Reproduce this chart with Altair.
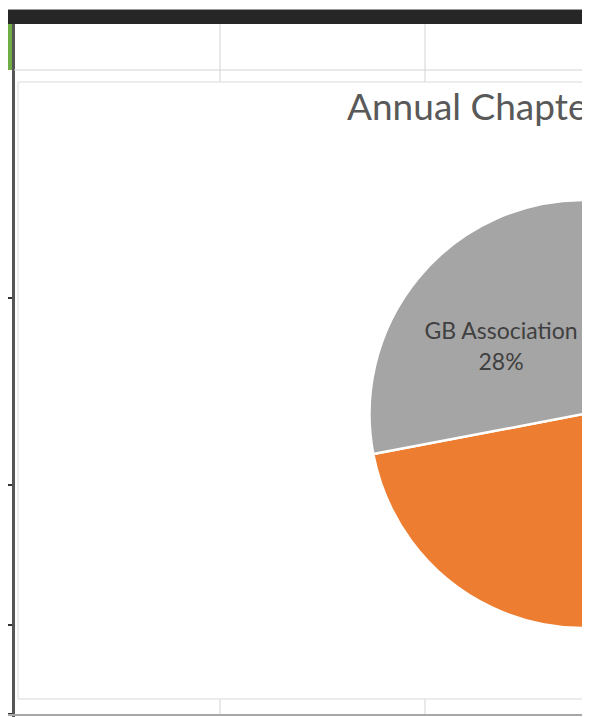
import altair as alt
import pandas as pd

# ---- chart data ----
categories = ["District", "Chapter", "GB Association"]
shares = [12, 60, 28]
slice_colors = ["#5B9BD5", "#ED7D31", "#A5A5A5"]
title_text = "Annual Chapter Dues Distribution"

# ---- layout (page pixels) ----
W, H = 574, 709
OFFX, OFFY = 8, 8
CX, CY, R = 583.5 - OFFX, 414 - OFFY, 214
LABEL_R = 107

# spreadsheet decoration: x1, x2, y1, y2, colour (page coordinates)
decor_x1 = [0, 0, 0, 12, 14, 219.5, 424.5, 219.5, 424.5, 0, 0, 0, 0, 0]
decor_x2 = [590, 590, 12, 15, 590, 220.5, 425.5, 220.5, 425.5, 12, 12, 12, 12, 590]
decor_y1 = [9, 10, 24, 24, 69.5, 24, 24, 699, 699, 297, 484, 624, 713, 714]
decor_y2 = [10, 24, 70, 717, 70.5, 82, 82, 715, 715, 299, 486, 626, 715, 716]
decor_col = ["#9a9a9a", "#262626", "#70AD47", "#555555", "#d4d4d4", "#d4d4d4", "#d4d4d4",
             "#d4d4d4", "#d4d4d4", "#333333", "#333333", "#333333", "#333333", "#a8a8a8"]

decor_df = pd.DataFrame({
    "x1": [v - OFFX for v in decor_x1], "x2": [v - OFFX for v in decor_x2],
    "y1": [v - OFFY for v in decor_y1], "y2": [v - OFFY for v in decor_y2],
    "col": decor_col,
})

decor = alt.Chart(decor_df).mark_rect().encode(
    x=alt.X("x1:Q", scale=None, axis=None), x2="x2:Q",
    y=alt.Y("y1:Q", scale=None, axis=None), y2="y2:Q",
    color=alt.Color("col:N", scale=None, legend=None),
)

area_df = pd.DataFrame({"x1": [18 - OFFX], "x2": [620 - OFFX], "y1": [82 - OFFY], "y2": [699 - OFFY]})
chart_area = alt.Chart(area_df).mark_rect(fill="white", stroke="#d9d9d9", strokeWidth=1).encode(
    x=alt.X("x1:Q", scale=None, axis=None), x2="x2:Q",
    y=alt.Y("y1:Q", scale=None, axis=None), y2="y2:Q",
)

pie_df = pd.DataFrame({"category": categories, "share": shares, "idx": list(range(len(shares)))})

base = alt.Chart(pie_df).encode(
    theta=alt.Theta("share:Q", stack=True),
    order=alt.Order("idx:Q"),
)

pie = base.mark_arc(outerRadius=R, stroke="white", strokeWidth=2.5, clip=True).encode(
    color=alt.Color("category:N", sort=categories,
                    scale=alt.Scale(domain=categories, range=slice_colors), legend=None),
    x=alt.value(CX), y=alt.value(CY),
)

labels = base.transform_calculate(
    label="datum.category + '\\n' + datum.share + '%'"
).mark_text(radius=LABEL_R, font="Lato", fontSize=23, color="#404040", dy=-14,
            lineBreak="\n", lineHeight=31, clip=True).encode(
    text="label:N", x=alt.value(CX), y=alt.value(CY),
)

title = alt.Chart(pd.DataFrame({"t": [title_text]})).mark_text(
    align="left", baseline="alphabetic", font="Lato", fontSize=37, color="#595959", clip=True
).encode(text="t:N", x=alt.value(347 - OFFX), y=alt.value(120 - OFFY))

chart = alt.layer(decor, chart_area, pie, labels, title).properties(
    width=W, height=H, autosize=alt.AutoSizeParams(type="none"), padding=0
).configure_view(stroke=None)

chart.save("out.html", embed_options={"renderer": "svg", "actions": False})
